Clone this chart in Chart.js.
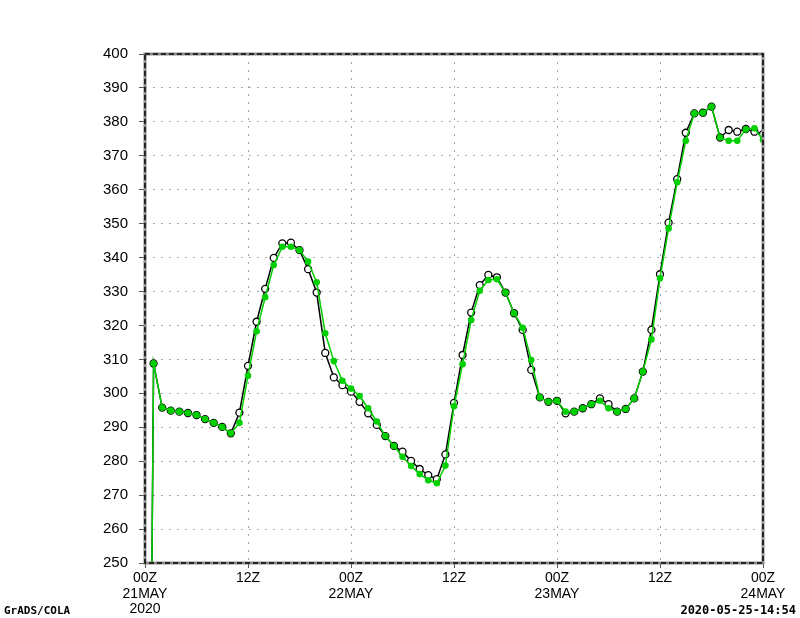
<!DOCTYPE html>
<html>
<head>
<meta charset="utf-8">
<script src="https://cdn.jsdelivr.net/npm/chart.js@4/dist/chart.umd.min.js"></script>
<style>
  html, body { margin: 0; padding: 0; background: #fff; }
  #wrap { width: 800px; height: 618px; position: relative; }
</style>
</head>
<body>
<div id="wrap"><canvas id="chart" width="800" height="618"></canvas></div>
<script>
// hours since 00Z 21MAY 2020
const hours = [
  0, 1, 2, 3, 4, 5, 6, 7, 8, 9, 10, 11, 12, 13, 14, 15, 16, 17, 18, 19, 20, 21, 22, 23, 24,
  25, 26, 27, 28, 29, 30, 31, 32, 33, 34, 35, 36, 37, 38, 39, 40, 41, 42, 43, 44, 45, 46, 47, 48,
  49, 50, 51, 52, 53, 54, 55, 56, 57, 58, 59, 60, 61, 62, 63, 64, 65, 66, 67, 68, 69, 70, 71, 72
];

const blackSeries = [
  0, 308.8, 295.8, 294.9, 294.6, 294.2, 293.6, 292.4, 291.3, 290.1, 288.2, 294.3, 308.1,
  321.1, 330.8, 339.9, 344.2, 344.4, 342.2, 336.6, 329.7, 311.9, 304.7, 302.4, 300.5,
  297.5, 294.1, 290.7, 287.4, 284.5, 282.8, 280.1, 277.7, 275.9, 274.7, 282.0, 297.2,
  311.3, 323.8, 331.9, 334.9, 334.2, 329.7, 323.6, 318.7, 306.9, 298.8, 297.5, 297.8,
  294.1, 294.6, 295.6, 296.8, 298.5, 296.8, 294.6, 295.4, 298.5, 306.4, 318.7, 335.1,
  350.3, 363.1, 376.8, 382.5, 382.7, 384.5, 375.4, 377.6, 377.1, 377.9, 377.1, 376.4
];

const greenSeries = [
  0, 308.8, 295.8, 294.9, 294.6, 294.2, 293.6, 292.4, 291.3, 290.1, 288.2, 291.3, 305.2,
  318.3, 328.3, 337.8, 343.2, 343.2, 342.2, 338.8, 332.7, 317.7, 309.5, 303.7, 301.4,
  299.2, 295.6, 291.7, 287.4, 284.5, 281.3, 278.6, 276.2, 274.4, 273.5, 278.7, 296.2,
  308.6, 321.6, 330.2, 333.4, 333.6, 329.7, 323.6, 319.3, 309.8, 298.8, 297.5, 297.8,
  294.6, 294.6, 295.6, 296.8, 297.8, 295.6, 294.6, 295.4, 298.5, 306.4, 315.9, 333.9,
  348.6, 362.2, 374.4, 382.5, 382.7, 384.5, 375.4, 374.4, 374.4, 377.8, 378.1, 374.7
];

const xTickLabels = [
  ["00Z", "21MAY", "2020"], ["12Z"], ["00Z", "22MAY"], ["12Z"],
  ["00Z", "23MAY"], ["12Z"], ["00Z", "24MAY"]
];

// frame + footer texts, GrADS style
const framePlugin = {
  id: "frame",
  afterDraw(chart) {
    const { ctx, chartArea: a } = chart;
    ctx.save();
    ctx.strokeStyle = "#8c8c8c";
    ctx.lineWidth = 3;
    ctx.strokeRect(a.left, a.top, a.right - a.left, a.bottom - a.top);
    ctx.strokeStyle = "#000";
    ctx.lineWidth = 1.5;
    ctx.setLineDash([5, 3]);
    ctx.strokeRect(a.left, a.top, a.right - a.left, a.bottom - a.top);
    ctx.setLineDash([]);

    ctx.fillStyle = "#000";
    ctx.font = "bold 11px 'DejaVu Sans Mono'";
    ctx.textBaseline = "alphabetic";
    ctx.textAlign = "left";
    ctx.fillText("GrADS/COLA", 4, 614);
    ctx.font = "bold 12px 'DejaVu Sans Mono'";
    ctx.textAlign = "right";
    ctx.fillText("2020-05-25-14:54", 796, 614);
    ctx.restore();
  }
};

const gridStyle = {
  color: "#a8a8a8",
  lineWidth: 1,
  tickColor: "#555",
  tickWidth: 1,
  tickBorderDash: []
};

new Chart(document.getElementById("chart"), {
  type: "line",
  data: {
    labels: hours,
    datasets: [
      {
        label: "green",
        data: greenSeries,
        borderColor: "#00d000",
        backgroundColor: "#00d000",
        borderWidth: 1.5,
        pointRadius: 3.3,
        pointBorderWidth: 0,
        pointBackgroundColor: "#00d000",
        tension: 0,
        order: 0
      },
      {
        label: "black",
        data: blackSeries,
        borderColor: "#000",
        backgroundColor: "#fff",
        borderWidth: 1.5,
        pointRadius: 3.5,
        pointBorderWidth: 1.3,
        pointBorderColor: "#000",
        pointBackgroundColor: "#fff",
        tension: 0,
        order: 1
      }
    ]
  },
  options: {
    responsive: false,
    animation: false,
    events: [],
    layout: { padding: { top: 54, right: 37, left: 0, bottom: 0 } },
    plugins: { legend: { display: false }, tooltip: { enabled: false } },
    scales: {
      x: {
        type: "linear",
        min: 0,
        max: 72,
        afterFit: s => { s.height = 55; },
        ticks: {
          stepSize: 12,
          autoSkip: false,
          maxRotation: 0,
          padding: 3,
          color: "#000",
          font: { family: "'Liberation Sans'", size: 14, lineHeight: 1.08 },
          callback: v => xTickLabels[v / 12]
        },
        grid: { ...gridStyle, tickLength: 5 },
        border: { display: false, dash: [2, 6] }
      },
      y: {
        min: 250,
        max: 400,
        afterFit: s => { s.width = 145; },
        ticks: {
          stepSize: 10,
          padding: 11,
          color: "#000",
          font: { family: "'Liberation Sans'", size: 15 }
        },
        grid: { ...gridStyle, tickLength: 6 },
        border: { display: false, dash: [2, 6] }
      }
    }
  },
  plugins: [framePlugin]
});
</script>
</body>
</html>
